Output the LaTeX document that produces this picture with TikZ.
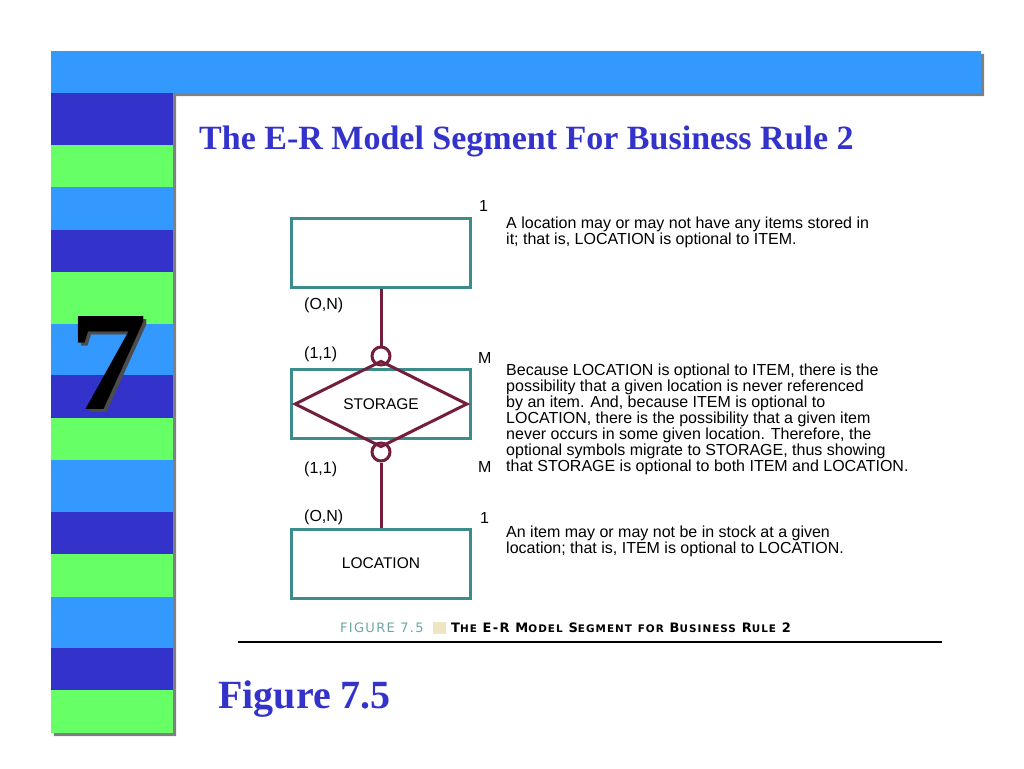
\documentclass[tikz,border=0pt]{standalone}
\usepackage{fontspec}
\setmainfont{Liberation Serif}
\setsansfont{Liberation Sans}
\newfontfamily\capfont[LetterSpace=10]{DejaVu Sans}
\usetikzlibrary{shapes.geometric}
\definecolor{darkband}{RGB}{51,51,204}
\definecolor{greenband}{RGB}{102,255,102}
\definecolor{lightband}{RGB}{51,153,255}
\definecolor{shadowgray}{RGB}{128,128,128}
\definecolor{entteal}{RGB}{60,140,140}
\definecolor{relmaroon}{RGB}{115,30,60}
\definecolor{capteal}{RGB}{110,165,165}
\definecolor{capbeige}{RGB}{238,230,192}
\newcommand\smcap[2]{#1{\fontsize{10.4}{11}\selectfont #2}}

\begin{document}
\begin{tikzpicture}[x=1pt,y=1pt,
  entbox/.style={draw=entteal,line width=3pt,minimum width=179pt,minimum height=69pt,inner sep=0pt,font=\sffamily\fontsize{15.5}{16}\selectfont},
  rel/.style={draw=relmaroon,line width=3pt},
  optcirc/.style={circle,rel,minimum size=18pt,inner sep=0pt},
  card/.style={inner sep=0pt,anchor=west,font=\sffamily\fontsize{16}{16}\selectfont},
  note/.style={inner sep=0pt,anchor=north west,align=left,font=\sffamily\fontsize{16}{16}\selectfont}]
 \useasboundingbox (0,0) rectangle (1024,-768);
 \fill[shadowgray] (54,-54) rectangle (984,-96) (54,-96) rectangle (176,-736); %影
 \fill[lightband] (51,-51) rectangle (981,-93); %上の帯
 \foreach \ya/\yb/\c in {93/145/darkband,145/187/greenband,187/230/lightband,230/272/darkband,
   272/324/greenband,324/375/lightband,375/418/darkband,418/460/greenband,460/512/lightband,
   512/554/darkband,554/597/greenband,597/648/lightband,648/690/darkband,690/733/greenband}
   \fill[\c] (51,-\ya) rectangle (173,-\yb); %左の帯
 \node[anchor=base,inner sep=0pt,text=black!70,font=\bfseries\fontsize{142}{142}\selectfont,xscale=1.1] (sevenshadow) at (112,-412) {7};
 \node[anchor=base,inner sep=0pt,font=\bfseries\fontsize{142}{142}\selectfont,xscale=1.1] (seven) at (109,-409) {7};
 \node[anchor=base west,inner sep=0pt,text=darkband,font=\bfseries\fontsize{34}{40}\selectfont] (title) at (199,-149) {The E-R Model Segment For Business Rule 2};

 \node[entbox] (item) at (381,-253) {};
 \node[entbox] (storage) at (381,-404) {};
 \node[entbox] (location) at (381,-563.5) {LOCATION};
 \node[diamond,rel,minimum width=173pt,minimum height=66pt,inner sep=0pt,font=\sffamily\fontsize{15.5}{16}\selectfont] (storagerel) at (storage) {STORAGE};
 \node[optcirc] (opt1) at (381,-356) {};
 \node[optcirc] (opt2) at (381,-452) {};
 \draw[rel] (item) -- (opt1);
 \draw[rel] (opt2) -- (location);

 \node[card] (on1) at (304,-305) {(O,N)};
 \node[card] (one1) at (304,-354) {(1,1)};
 \node[card] (one2) at (304,-469) {(1,1)};
 \node[card] (on2) at (304,-517) {(O,N)};
 \node[card] (c1) at (479,-206) {1};
 \node[card] (cm1) at (478,-358) {M};
 \node[card] (cm2) at (478,-467) {M};
 \node[card] (c2) at (480,-518) {1};

 \node[note] (note1) at (506,-217) {A location may or may not have any items stored in\\it; that is, LOCATION is optional to ITEM.};
 \node[note] (note2) at (506,-364) {Because LOCATION is optional to ITEM, there is the\\possibility that a given location is never referenced\\by an item. And, because ITEM is optional to\\LOCATION, there is the possibility that a given item\\never occurs in some given location. Therefore, the\\optional symbols migrate to STORAGE, thus showing\\that STORAGE is optional to both ITEM and LOCATION.};
 \node[note] (note3) at (506,-526) {An item may or may not be in stock at a given\\location; that is, ITEM is optional to LOCATION.};

 \node[anchor=base west,inner sep=0pt,text=capteal,font=\capfont\fontsize{13}{13}\selectfont] (figno) at (340,-632) {FIGURE 7.5};
 \node[anchor=west,fill=capbeige,minimum width=13pt,minimum height=12pt,inner sep=0pt] (capmark) at (433,-628) {};
 \node[anchor=base west,inner sep=0pt,font=\capfont\bfseries\fontsize{13}{13}\selectfont] (captext) at (451,-632) {\smcap{T}{HE} \smcap{E-R}{} \smcap{M}{ODEL} \smcap{S}{EGMENT} {\fontsize{10.4}{11}\selectfont FOR} \smcap{B}{USINESS} \smcap{R}{ULE} 2};
 \draw[line width=2pt] (238,-642) -- (942,-642); %下線
 \node[anchor=base west,inner sep=0pt,text=darkband,font=\bfseries\fontsize{40}{46}\selectfont] (figlabel) at (218,-708) {Figure 7.5};
\end{tikzpicture}
\end{document}
